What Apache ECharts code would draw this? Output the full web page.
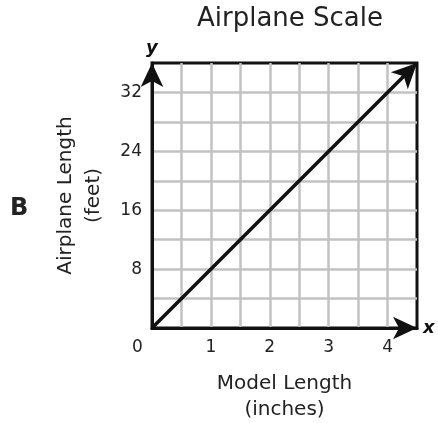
<!DOCTYPE html>
<html>
<head>
<meta charset="utf-8">
<script src="https://cdn.jsdelivr.net/npm/echarts@6/dist/echarts.min.js"></script>
<style>
html,body{margin:0;padding:0;background:#fff;}
#c{width:438px;height:423px;}
</style>
</head>
<body>
<div id="c"></div>
<script>
// Data
var titleText = 'Airplane Scale';
var panelLetter = 'B';
var xName = 'Model Length\n(inches)';
var yName = 'Airplane Length\n(feet)';
var xMin = 0, xMax = 4.5, xStep = 0.5;
var yMin = 0, yMax = 36, yStep = 4;
var xLabelValues = [0, 1, 2, 3, 4];
var yLabelValues = [8, 16, 24, 32];
var modelInches = [0, 4.5];
var airplaneFeet = [0, 36];

var FONT = 'DejaVu Sans, Verdana, sans-serif';
var chart = echarts.init(document.getElementById('c'), null, {renderer: 'canvas'});

var seriesData = modelInches.map(function (x, i) {
  var item = {value: [x, airplaneFeet[i]], symbol: 'none'};
  if (i === modelInches.length - 1) {
    item.symbol = 'arrow';
    item.symbolSize = [18, 25];
    item.symbolRotate = -45;
    item.symbolOffset = [0, 0];
    item.itemStyle = {color: '#111'};
  }
  return item;
});

chart.setOption({
  animation: false,
  backgroundColor: '#fff',
  title: {
    text: titleText,
    left: 285,
    top: 1,
    textAlign: 'center',
    textStyle: {fontFamily: FONT, fontSize: 26, fontWeight: 'normal', color: '#222'}
  },
  grid: {
    left: 152, right: 21, top: 63, bottom: 95,
    outerBoundsMode: 'none', containLabel: false,
    show: true, borderColor: '#111', borderWidth: 3, backgroundColor: 'transparent'
  },
  xAxis: {
    type: 'value', min: xMin, max: xMax, interval: xStep,
    name: xName, nameLocation: 'middle', nameGap: 43,
    nameTextStyle: {fontFamily: FONT, fontSize: 20, color: '#222', lineHeight: 26},
    axisLine: {show: true, lineStyle: {color: '#111', width: 3}, symbol: ['none', 'arrow'], symbolSize: [17, 24], symbolOffset: [0, 0]},
    axisTick: {show: false},
    splitLine: {show: true, showMinLine: false, showMaxLine: false, lineStyle: {color: '#c2c2c2', width: 2.5}},
    axisLabel: {
      margin: 11,
      fontFamily: FONT, fontSize: 17, color: '#222',
      formatter: function (v) {
        if (xLabelValues.indexOf(v) < 0) return '';
        return v === 0 ? '{z|0}' : String(v);
      },
      rich: {z: {fontFamily: FONT, fontSize: 17, color: '#222', padding: [0, 29, 0, 0]}}
    }
  },
  yAxis: {
    type: 'value', min: yMin, max: yMax, interval: yStep,
    name: yName, nameLocation: 'middle', nameGap: 44, nameRotate: 90,
    nameTextStyle: {fontFamily: FONT, fontSize: 20, color: '#222', lineHeight: 28},
    axisLine: {show: true, lineStyle: {color: '#111', width: 3}, symbol: ['none', 'arrow'], symbolSize: [17, 24], symbolOffset: [0, 0]},
    axisTick: {show: false},
    splitLine: {show: true, showMinLine: false, showMaxLine: false, lineStyle: {color: '#c2c2c2', width: 2.5}},
    axisLabel: {
      margin: 10,
      fontFamily: FONT, fontSize: 17, color: '#222',
      formatter: function (v) { return yLabelValues.indexOf(v) < 0 ? '' : String(v); }
    }
  },
  graphic: [
    {type: 'text', left: 10, top: 197, style: {text: panelLetter, font: 'bold 24px ' + FONT, fill: '#222'}},
    {type: 'text', left: 146, top: 39, style: {text: 'y', font: 'italic bold 18px ' + FONT, fill: '#111'}},
    {type: 'text', left: 423, top: 319, style: {text: 'x', font: 'italic bold 18px ' + FONT, fill: '#111'}}
  ],
  series: [{
    type: 'line',
    data: seriesData,
    showSymbol: true,
    lineStyle: {color: '#111', width: 3.5},
    itemStyle: {color: '#111'},
    z: 5
  }]
});
</script>
</body>
</html>
